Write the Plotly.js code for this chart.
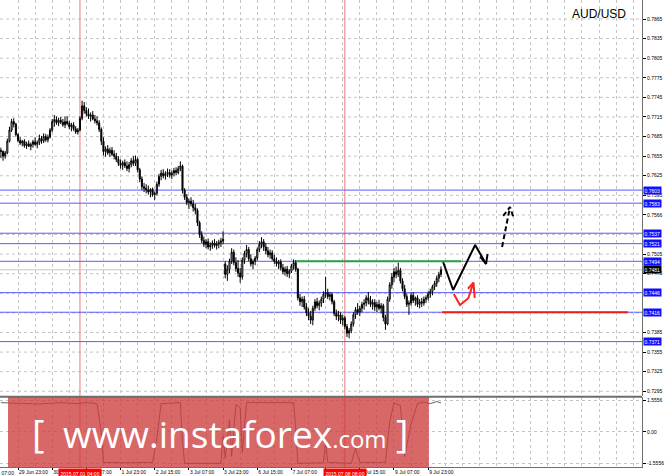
<!DOCTYPE html>
<html>
<head>
<meta charset="utf-8">
<script src="https://cdn.plot.ly/plotly-3.0.1.min.js"></script>
<style>html,body{margin:0;padding:0;background:#fff;}#chart{width:665px;height:476px;}</style>
</head>
<body>
<div id="chart"></div>
<script>
// ---- data (H1 bars, AUD/USD) ----
// bar index 0 = 29 Jun 23:00; first visible bar = -8
const firstBar = -8;
const openP = [0.7664,0.7662,0.7655,0.7660,0.7678,0.7695,0.7708,0.7704,
0.7688,0.7679,0.7675,0.7678,0.7671,0.7674,0.7670,0.7673,0.7677,0.7673,0.7676,0.7682,0.7678,0.7685,0.7680,
0.7684,0.7695,0.7708,0.7711,0.7706,0.7710,0.7707,0.7703,0.7708,0.7705,0.7700,0.7703,0.7697,0.7692,
0.7695,0.7713,0.7732,0.7725,0.7720,0.7716,0.7718,0.7712,0.7709,0.7706,0.7696,0.7678,0.7662,
0.7666,0.7660,0.7664,0.7658,0.7655,0.7650,0.7644,0.7641,0.7645,0.7640,0.7636,0.7642,0.7648,0.7644,0.7650,
0.7634,0.7620,0.7608,0.7606,0.7603,0.7600,0.7604,0.7596,0.7598,0.7612,0.7624,0.7629,0.7625,0.7628,
0.7630,0.7626,0.7629,0.7633,0.7630,0.7636,0.7640,0.7603,0.7592,0.7584,0.7586,0.7582,0.7576,0.7572,
0.7553,0.7535,0.7526,0.7520,0.7524,0.7516,0.7519,0.7522,0.7518,0.7520,0.7523,0.7525,
0.7490,0.7474,0.7482,0.7494,0.7508,0.7492,0.7483,0.7476,0.7470,0.7496,0.7506,0.7512,0.7498,0.7490,0.7494,
0.7499,0.7512,0.7520,0.7524,0.7516,0.7510,0.7504,0.7507,0.7498,0.7494,0.7490,0.7493,0.7484,0.7478,0.7482,
0.7475,0.7479,0.7487,0.7492,0.7482,0.7438,0.7432,0.7436,0.7424,0.7415,0.7410,0.7404,0.7422,0.7432,0.7426,
0.7430,0.7436,0.7444,0.7446,0.7440,0.7443,0.7432,0.7414,0.7410,0.7412,0.7404,0.7407,0.7394,0.7384,0.7388,
0.7398,0.7412,0.7420,0.7416,0.7422,0.7428,0.7430,0.7438,0.7434,0.7428,0.7431,0.7424,0.7428,0.7422,0.7426,
0.7408,0.7398,0.7436,0.7458,0.7470,0.7478,0.7474,0.7480,0.7464,0.7452,0.7440,0.7428,0.7430,0.7442,0.7434,
0.7438,0.7428,0.7432,0.7430,0.7436,0.7438,0.7444,0.7448,0.7455,0.7460,0.7468,0.7474];
const highP = [0.7668,0.7664,0.7663,0.7682,0.7700,0.7712,0.7713,0.7706,
0.7690,0.7684,0.7680,0.7681,0.7677,0.7679,0.7676,0.7680,0.7684,0.7679,0.7688,0.7686,0.7690,0.7689,0.7688,
0.7698,0.7712,0.7718,0.7716,0.7714,0.7715,0.7712,0.7716,0.7716,0.7709,0.7706,0.7707,0.7701,0.7698,
0.7716,0.7740,0.7738,0.7730,0.7728,0.7722,0.7724,0.7718,0.7716,0.7710,0.7699,0.7684,0.7670,
0.7672,0.7668,0.7669,0.7664,0.7660,0.7655,0.7650,0.7648,0.7650,0.7647,0.7646,0.7652,0.7655,0.7656,0.7653,
0.7637,0.7624,0.7614,0.7612,0.7610,0.7606,0.7607,0.7601,0.7616,0.7628,0.7634,0.7635,0.7632,0.7636,
0.7635,0.7633,0.7637,0.7638,0.7640,0.7647,0.7642,0.7606,0.7597,0.7590,0.7592,0.7588,0.7582,0.7575,
0.7556,0.7540,0.7532,0.7528,0.7529,0.7523,0.7526,0.7528,0.7525,0.7527,0.7530,0.7540,
0.7494,0.7488,0.7498,0.7514,0.7512,0.7500,0.7496,0.7484,0.7500,0.7510,0.7519,0.7516,0.7505,0.7497,0.7502,
0.7515,0.7525,0.7531,0.7528,0.7522,0.7516,0.7512,0.7511,0.7504,0.7500,0.7496,0.7497,0.7490,0.7486,0.7487,
0.7482,0.7490,0.7497,0.7496,0.7484,0.7444,0.7440,0.7441,0.7430,0.7422,0.7418,0.7426,0.7436,0.7438,0.7434,
0.7440,0.7448,0.7470,0.7452,0.7447,0.7446,0.7435,0.7420,0.7418,0.7416,0.7412,0.7410,0.7398,0.7392,0.7402,
0.7416,0.7424,0.7430,0.7426,0.7432,0.7436,0.7442,0.7447,0.7441,0.7436,0.7436,0.7432,0.7435,0.7430,0.7429,
0.7412,0.7440,0.7462,0.7476,0.7484,0.7486,0.7492,0.7484,0.7468,0.7458,0.7445,0.7434,0.7446,0.7447,0.7440,
0.7442,0.7436,0.7438,0.7440,0.7442,0.7448,0.7452,0.7458,0.7464,0.7472,0.7478,0.7486];
const lowP = [0.7652,0.7648,0.7651,0.7658,0.7676,0.7692,0.7699,0.7685,
0.7676,0.7672,0.7670,0.7668,0.7666,0.7669,0.7664,0.7668,0.7671,0.7667,0.7672,0.7674,0.7675,0.7677,0.7676,
0.7682,0.7692,0.7700,0.7703,0.7701,0.7704,0.7700,0.7698,0.7702,0.7696,0.7693,0.7694,0.7689,0.7688,
0.7693,0.7710,0.7720,0.7716,0.7712,0.7708,0.7710,0.7705,0.7702,0.7692,0.7672,0.7656,0.7654,
0.7657,0.7654,0.7655,0.7650,0.7646,0.7640,0.7636,0.7634,0.7637,0.7632,0.7630,0.7638,0.7640,0.7640,0.7630,
0.7615,0.7603,0.7600,0.7598,0.7596,0.7592,0.7593,0.7588,0.7595,0.7608,0.7618,0.7621,0.7619,0.7623,
0.7622,0.7620,0.7624,0.7626,0.7627,0.7632,0.7598,0.7588,0.7580,0.7574,0.7578,0.7570,0.7566,0.7548,
0.7530,0.7522,0.7516,0.7514,0.7512,0.7510,0.7513,0.7515,0.7512,0.7514,0.7516,0.7520,
0.7468,0.7464,0.7476,0.7490,0.7488,0.7478,0.7470,0.7461,0.7466,0.7490,0.7500,0.7494,0.7486,0.7482,0.7488,
0.7495,0.7508,0.7514,0.7510,0.7505,0.7500,0.7498,0.7495,0.7490,0.7486,0.7482,0.7480,0.7474,0.7472,0.7470,
0.7468,0.7476,0.7481,0.7478,0.7434,0.7426,0.7424,0.7420,0.7410,0.7404,0.7398,0.7396,0.7418,0.7422,0.7419,
0.7424,0.7430,0.7438,0.7436,0.7434,0.7428,0.7410,0.7404,0.7402,0.7398,0.7396,0.7390,0.7378,0.7376,0.7384,
0.7394,0.7406,0.7412,0.7410,0.7416,0.7420,0.7425,0.7428,0.7424,0.7420,0.7418,0.7416,0.7419,0.7414,0.7402,
0.7389,0.7396,0.7432,0.7452,0.7462,0.7468,0.7470,0.7460,0.7448,0.7436,0.7424,0.7412,0.7426,0.7430,0.7426,
0.7424,0.7422,0.7424,0.7426,0.7430,0.7434,0.7438,0.7442,0.7450,0.7455,0.7462,0.7470];
const closeP = [0.7662,0.7655,0.7660,0.7678,0.7695,0.7708,0.7704,0.7688,
0.7679,0.7675,0.7678,0.7671,0.7674,0.7670,0.7673,0.7677,0.7673,0.7676,0.7682,0.7678,0.7685,0.7680,0.7684,
0.7695,0.7708,0.7711,0.7706,0.7710,0.7707,0.7703,0.7708,0.7705,0.7700,0.7703,0.7697,0.7692,0.7695,
0.7713,0.7732,0.7725,0.7720,0.7716,0.7718,0.7712,0.7709,0.7706,0.7696,0.7678,0.7662,0.7666,
0.7660,0.7664,0.7658,0.7655,0.7650,0.7644,0.7641,0.7645,0.7640,0.7636,0.7642,0.7648,0.7644,0.7650,0.7634,
0.7620,0.7608,0.7606,0.7603,0.7600,0.7604,0.7596,0.7598,0.7612,0.7624,0.7629,0.7625,0.7628,0.7630,
0.7626,0.7629,0.7633,0.7630,0.7636,0.7640,0.7603,0.7592,0.7584,0.7586,0.7582,0.7576,0.7572,0.7553,
0.7535,0.7526,0.7520,0.7524,0.7516,0.7519,0.7522,0.7518,0.7520,0.7523,0.7525,0.7528,
0.7474,0.7482,0.7494,0.7508,0.7492,0.7483,0.7476,0.7470,0.7496,0.7506,0.7512,0.7498,0.7490,0.7494,0.7499,
0.7512,0.7520,0.7524,0.7516,0.7510,0.7504,0.7507,0.7498,0.7494,0.7490,0.7493,0.7484,0.7478,0.7482,0.7475,
0.7479,0.7487,0.7492,0.7482,0.7438,0.7432,0.7436,0.7424,0.7415,0.7410,0.7404,0.7422,0.7432,0.7426,0.7430,
0.7436,0.7444,0.7446,0.7440,0.7443,0.7432,0.7414,0.7410,0.7412,0.7404,0.7407,0.7394,0.7384,0.7388,0.7398,
0.7412,0.7420,0.7416,0.7422,0.7428,0.7430,0.7438,0.7434,0.7428,0.7431,0.7424,0.7428,0.7422,0.7426,0.7408,
0.7398,0.7436,0.7458,0.7470,0.7478,0.7474,0.7480,0.7464,0.7452,0.7440,0.7428,0.7430,0.7442,0.7434,0.7438,
0.7428,0.7432,0.7430,0.7436,0.7438,0.7444,0.7448,0.7455,0.7460,0.7468,0.7474,0.7481];

// oscillator in lower pane (bar index, value)
const oscBar = [-8,0,10,20,28,32,37,39,40,50,63,65,67,76,77,78,95,96,97,99,100,102,104,105,107,129,130,131,143,144,145,156,158,160,172,174,176,179,181,184,187,190,193,196,198];
const oscVal = [1.45,1.42,1.38,1.45,1.40,1.46,1.40,0.0,-1.50,-1.52,-1.50,-0.3,1.40,1.45,-0.5,-1.55,-1.55,-0.2,-1.3,0.6,-1.2,1.35,1.2,-1.0,1.45,1.45,0.2,-1.55,-1.52,-0.4,-1.5,-1.55,-0.8,-1.5,-1.5,0.5,1.45,1.3,-1.2,0.4,1.40,1.48,1.40,1.50,1.44];

// price axis labels
const priceTicks = [0.7865,0.7835,0.7805,0.7775,0.7745,0.7715,0.7685,0.7655,0.7625,0.7595,0.7565,0.7505,0.7475,0.7385,0.7355,0.7325,0.7295];
const priceTickText = ["0.7865","0.7835","0.7805","0.7775","0.7745","0.7715","0.7685","0.7655","0.7625","0.7595","0.7566","0.7505","0.7475","0.7385","0.7355","0.7325","0.7295"];
const priceGrid = [0.7865,0.7835,0.7805,0.7775,0.7745,0.7715,0.7685,0.7655,0.7625,0.7595,0.7565,0.7535,0.7505,0.7475,0.7445,0.7415,0.7385,0.7355,0.7325,0.7295];
// time axis labels (bar index -> text)
const timeTicks = [0,16,32,48,64,80,96,112,128,144,160,176,192];
const timeText = ["29 Jun 23:00","30 Jun 15:00","1 Jul 07:00","1 Jul 23:00","2 Jul 15:00","3 Jul 07:00","3 Jul 23:00","6 Jul 15:00","7 Jul 07:00","7 Jul 23:00","8 Jul 15:00","9 Jul 07:00","9 Jul 23:00"];
// horizontal levels
const blueLevels = [0.7603,0.7583,0.7537,0.7521,0.7494,0.7446,0.7416,0.7371];
const lastPrice = 0.7481;
const greenLevel = 0.7494, greenFrom = 130, greenTo = 207.5;
const redLevel = 0.7416, redFrom = 198.5, redTo = 285.6;
// vertical marker lines (bar index, label)
const markerBars = [29,153];
const markerText = ["2015.07.01 04:00","2015.07.08 08:00"];
// forecast arrows (bar index, price)
const blackArrowX = [199.0,203.7,214.0,219.1,null,216.3,219.1,219.8];
const blackArrowY = [0.74929,0.74501,0.75190,0.74899,null,0.75010,0.74899,0.75050];
const dashArrowX = [226.6,230.3,null,227.1,230.3,232.2];
const dashArrowY = [0.75159,0.75771,null,0.75634,0.75771,0.75588];
const redArrowX = [204.0,206.9,210.8,213.2,null,210.6,213.2,213.8];
const redArrowY = [0.7444,0.74272,0.74374,0.74613,null,0.74520,0.74613,0.74380];

// ---- build ----
const barIdx = closeP.map((_, k) => firstBar + k);
const FONT = 'Liberation Sans, Arial, sans-serif';
const GRID = '#c4c4c4';

const traces = [
  {type:'scatter', mode:'lines', x:oscBar, y:oscVal, xaxis:'x', yaxis:'y2',
   line:{color:'#3a3a3a', width:0.8}, hoverinfo:'skip'},
  {type:'candlestick', x:barIdx, open:openP, high:highP, low:lowP, close:closeP,
   xaxis:'x', yaxis:'y', whiskerwidth:0,
   increasing:{line:{color:'#000', width:1}, fillcolor:'#fff'},
   decreasing:{line:{color:'#000', width:1}, fillcolor:'#000'},
   hoverinfo:'skip'},
  {type:'scatter', mode:'lines', x:blackArrowX, y:blackArrowY, yaxis:'y',
   line:{color:'#000', width:2}, hoverinfo:'skip', connectgaps:false},
  {type:'scatter', mode:'lines', x:dashArrowX, y:dashArrowY, yaxis:'y',
   line:{color:'#000', width:2, dash:'5px,3px'}, hoverinfo:'skip', connectgaps:false},
  {type:'scatter', mode:'lines', x:redArrowX, y:redArrowY, yaxis:'y',
   line:{color:'#ff2020', width:2}, hoverinfo:'skip', connectgaps:false}
];

const shapes = [];
priceGrid.forEach(v => shapes.push({type:'line', xref:'paper', x0:0, x1:1, yref:'y', y0:v, y1:v,
  line:{color:GRID, width:1, dash:'dot'}, layer:'below'}));
markerBars.forEach(b => shapes.push({type:'line', xref:'x', x0:b, x1:b, yref:'paper', y0:0, y1:1,
  line:{color:'#f07878', width:1}, layer:'below'}));
shapes.push({type:'line', xref:'paper', x0:0, x1:1, yref:'y', y0:lastPrice, y1:lastPrice,
  line:{color:'#c8c8c8', width:1}, layer:'below'});
blueLevels.forEach(v => shapes.push({type:'line', xref:'paper', x0:0, x1:1, yref:'y', y0:v, y1:v,
  line:{color:'#5a5aff', width:1}, layer:'below'}));
shapes.push({type:'line', xref:'x', x0:greenFrom, x1:greenTo, yref:'y', y0:greenLevel, y1:greenLevel,
  line:{color:'#2aa040', width:2}});
shapes.push({type:'line', xref:'x', x0:redFrom, x1:redTo, yref:'y', y0:redLevel, y1:redLevel,
  line:{color:'#e82020', width:2}});
// pane separator
shapes.push({type:'line', xref:'paper', x0:0, x1:1, yref:'paper', y0:0.1505, y1:0.1505,
  line:{color:'#6e6e6e', width:2}});
// watermark box
shapes.push({type:'rect', xref:'paper', x0:0.0125, x1:0.668, yref:'paper', y0:0, y1:0.1499,
  fillcolor:'rgba(205,60,60,0.78)', line:{width:0}, layer:'above'});

const annotations = [];
blueLevels.forEach(v => annotations.push({xref:'paper', x:1, xanchor:'left', xshift:1, yref:'y', y:v,
  text:v.toFixed(4), showarrow:false, bgcolor:'#1010ff', font:{family:FONT, size:5, color:'#fff'}, borderpad:0.5}));
annotations.push({xref:'paper', x:1, xanchor:'left', xshift:1, yref:'y', y:lastPrice,
  text:lastPrice.toFixed(4), showarrow:false, bgcolor:'#000', font:{family:FONT, size:5, color:'#fff'}, borderpad:0.5});
markerBars.forEach((b,k) => annotations.push({xref:'x', x:b, xanchor:'center', yref:'paper', y:0, yanchor:'top', yshift:-0.5,
  text:markerText[k], showarrow:false, bgcolor:'#ff0000', font:{family:FONT, size:5, color:'#fff'}, borderpad:1.5}));
annotations.push({xref:'paper', x:-0.0265, xanchor:'left', yref:'paper', y:0, yanchor:'top', yshift:-0.5,
  text:'29 Jun 07:00', showarrow:false, font:{family:FONT, size:5, color:'#000'}});
annotations.push({xref:'paper', x:0.978, xanchor:'right', yref:'paper', y:0.970, yanchor:'middle',
  text:'AUD/USD', showarrow:false, font:{family:FONT, size:12, color:'#000'}});
// watermark text
annotations.push({xref:'paper', x:0.0475, xanchor:'left', yref:'paper', y:0.072, yanchor:'middle',
  text:'[', showarrow:false, font:{family:'Open Sans, sans-serif', size:38, color:'#fff'}});
annotations.push({xref:'paper', x:0.095, xanchor:'left', yref:'paper', y:0.072, yanchor:'middle',
  text:'www.instaforex<span style="font-size:24px">.com</span>', showarrow:false, font:{family:'Open Sans, sans-serif', size:37, color:'#fff'}});
annotations.push({xref:'paper', x:0.614, xanchor:'left', yref:'paper', y:0.072, yanchor:'middle',
  text:']', showarrow:false, font:{family:'Open Sans, sans-serif', size:38, color:'#fff'}});

const layout = {
  width:665, height:476,
  margin:{l:0, r:23, t:0, b:9, pad:0},
  paper_bgcolor:'#fff', plot_bgcolor:'#fff',
  showlegend:false,
  xaxis:{range:[-8.43, 292.1], anchor:'y2', tickmode:'array', tickvals:timeTicks, ticktext:timeText,
    ticklabelposition:'outside right', tickangle:0, ticks:'outside', ticklen:2, tickcolor:'#000',
    tickfont:{family:FONT, size:5, color:'#000'},
    showgrid:true, gridcolor:GRID, griddash:'dot', gridwidth:1,
    minor:{tickmode:'linear', tick0:0, dtick:8, showgrid:true, gridcolor:GRID, griddash:'dot', ticks:''},
    showline:true, linecolor:'#6e6e6e', linewidth:1, zeroline:false,
    rangeslider:{visible:false}, fixedrange:true},
  yaxis:{domain:[0.151,1], range:[0.72870,0.78941], side:'right', anchor:'x',
    tickmode:'array', tickvals:priceTicks, ticktext:priceTickText,
    ticks:'outside', ticklen:3, tickcolor:'#000', tickfont:{family:FONT, size:5, color:'#000'},
    showgrid:false, showline:true, linecolor:'#6e6e6e', linewidth:1, zeroline:false, fixedrange:true},
  yaxis2:{domain:[0,0.1499], range:[-1.728,1.728], side:'right', anchor:'x',
    tickmode:'array', tickvals:[1.5556,0,-1.5556], ticktext:['1.5556','0.00','-1.5556'],
    ticks:'outside', ticklen:3, tickcolor:'#000', tickfont:{family:FONT, size:5, color:'#000'},
    showgrid:true, gridcolor:GRID, griddash:'dot', showline:true, linecolor:'#6e6e6e', zeroline:false, fixedrange:true},
  shapes:shapes, annotations:annotations
};

Plotly.newPlot('chart', traces, layout, {staticPlot:true, displayModeBar:false});
</script>
</body>
</html>
